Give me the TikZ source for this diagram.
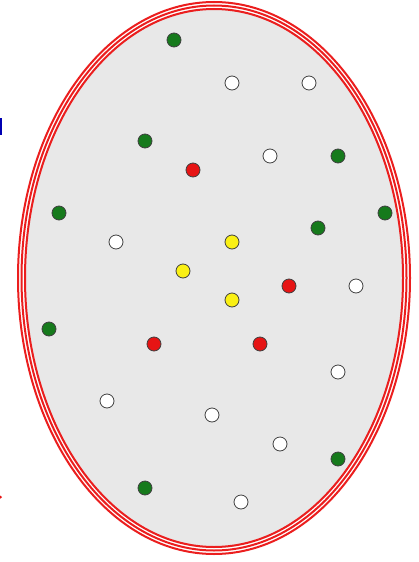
\documentclass[tikz,border=0pt]{standalone}
\usepackage{xcolor}
\usepackage{tikz}
\definecolor{dotgreen}{RGB}{22,122,28}
\definecolor{dotred}{RGB}{230,20,20}
\definecolor{dotyellow}{RGB}{250,240,20}
\definecolor{ringred}{RGB}{235,30,30}
\definecolor{fieldgray}{RGB}{232,232,232}
\tikzset{
  dot/.style={circle, draw=black!75, line width=0.8pt, inner sep=0pt, minimum size=14pt},
  greendot/.style={dot, fill=dotgreen},
  whitedot/.style={dot, fill=white},
  reddot/.style={dot, fill=dotred},
  yellowdot/.style={dot, fill=dotyellow},
  ring/.style={draw=ringred, line width=2pt}
}
\begin{document}
\begin{tikzpicture}[x=1pt, y=-1pt]
  \useasboundingbox (0,0) rectangle (418,562);
  % field and triple border
  \fill[fieldgray] (214,278) ellipse [x radius=190, y radius=270];
  \draw[ring] (214,278) ellipse [x radius=196, y radius=276];
  \draw[ring] (214,278) ellipse [x radius=192.5, y radius=272.5];
  \draw[ring] (214,278) ellipse [x radius=189, y radius=269];
  % cut-off marks at the left edge
  \fill[blue!70!black] (0,118) rectangle (2,135);
  \fill[dotred] (0.5,497) circle [radius=1.5];
  % green
  \node[greendot] (g1) at (174,40) {};
  \node[greendot] (g2) at (145,141) {};
  \node[greendot] (g3) at (338,156) {};
  \node[greendot] (g4) at (59,213) {};
  \node[greendot] (g5) at (385,213) {};
  \node[greendot] (g6) at (318,228) {};
  \node[greendot] (g7) at (49,329) {};
  \node[greendot] (g8) at (338,459) {};
  \node[greendot] (g9) at (145,488) {};
  % white
  \node[whitedot] (w1) at (232,83) {};
  \node[whitedot] (w2) at (309,83) {};
  \node[whitedot] (w3) at (270,156) {};
  \node[whitedot] (w4) at (116,242) {};
  \node[whitedot] (w5) at (356,286) {};
  \node[whitedot] (w6) at (338,372) {};
  \node[whitedot] (w7) at (107,401) {};
  \node[whitedot] (w8) at (212,415) {};
  \node[whitedot] (w9) at (280,444) {};
  \node[whitedot] (w10) at (241,502) {};
  % red
  \node[reddot] (r1) at (193,170) {};
  \node[reddot] (r2) at (289,286) {};
  \node[reddot] (r3) at (154,344) {};
  \node[reddot] (r4) at (260,344) {};
  % yellow
  \node[yellowdot] (y1) at (232,242) {};
  \node[yellowdot] (y2) at (183,271) {};
  \node[yellowdot] (y3) at (232,300) {};
\end{tikzpicture}
\end{document}
